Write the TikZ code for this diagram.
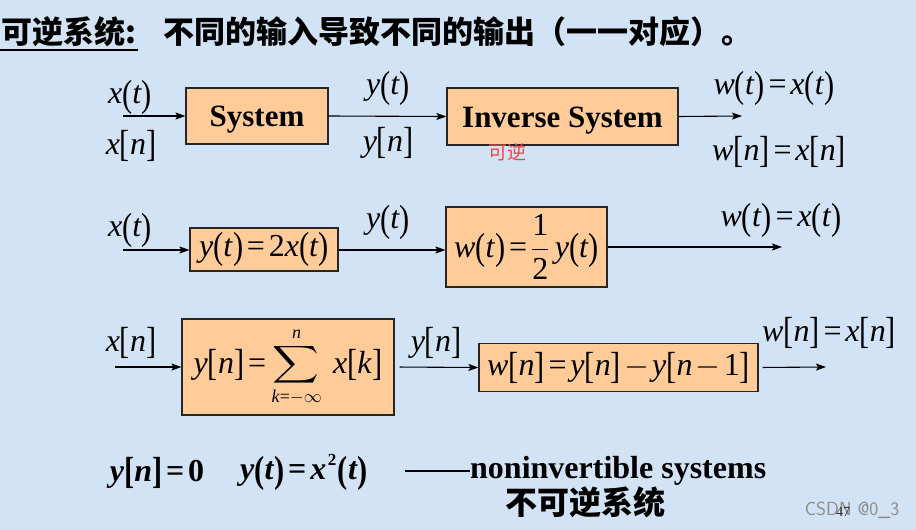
\documentclass[tikz,border=0pt]{standalone}
\usepackage{fix-cm}
\usepackage{exscale}
\usepackage{amsmath}
\usepackage{fontspec}
\setmainfont{Liberation Serif}
\newfontfamily\cjk{Noto Sans CJK SC}
\usepackage{graphicx}
\usetikzlibrary{arrows.meta}
\definecolor{bgblue}{RGB}{210,227,245}
\definecolor{peach}{RGB}{255,204,153}
\definecolor{redlbl}{RGB}{240,70,70}
\newcommand\LP{\raisebox{-0.08em}{\scalebox{0.95}[1.18]{(}}}
\newcommand\RP{\raisebox{-0.08em}{\scalebox{0.95}[1.18]{)}}}
\newcommand\LB{\raisebox{-0.08em}{\scalebox{0.95}[1.18]{[}}}
\newcommand\RB{\raisebox{-0.08em}{\scalebox{0.95}[1.18]{]}}}
\newcommand\vv[1]{\textit{#1}}
\newcommand\EQ{\kern0.12em=\kern0.12em}
\newcommand\MN{\kern0.1em$-$\kern0.1em}
\begin{document}
\begin{tikzpicture}[x=1pt,y=-1pt,
  lbl/.style={font=\fontsize{32}{36}\selectfont, inner sep=0pt},
  sysbox/.style={draw=black!85, fill=peach, line width=1.1pt, inner sep=0pt, font=\fontsize{32}{36}\selectfont},
  arr/.style={-{Stealth[length=10pt,width=7pt,inset=2pt]}, line width=1.1pt},
  cjkt/.style={font=\cjk\bfseries\fontsize{31}{34}\selectfont, inner sep=0pt}]
\fill[bgblue] (0,0) rectangle (916,530);
\useasboundingbox (0,0) rectangle (916,530);

% title
\node[cjkt, anchor=west] (t1) at (1,32) {可逆系统:};
\draw[line width=2.5pt] (0,50) -- (138,50);
\node[cjkt, anchor=west] (t2) at (163,32) {不同的输入导致不同的输出（一一对应）。};

% row 1
\node[sysbox, minimum width=142pt, minimum height=56pt, text height=21pt, text depth=0pt, font=\bfseries\fontsize{31}{34}\selectfont] (sys) at (257,116) {System};
\node[sysbox, minimum width=231pt, minimum height=57pt, text height=21pt, text depth=0pt, font=\bfseries\fontsize{31}{34}\selectfont] (inv) at (562.5,116.5) {Inverse System};
\coordinate (in1) at (123,116);
\coordinate (out1) at (742,116);
\draw[arr] (in1) -- (sys.west);
\draw[arr] (sys.east) -- (inv.west);
\draw[arr] (inv.east) -- (out1);
\node[lbl] (l1a) at (130,97) {\vv{x}\LP\vv{t}\RP};
\node[lbl] (l1b) at (131,146) {\vv{x}\LB\vv{n}\RB};
\node[lbl] (l1c) at (388,88) {\vv{y}\LP\vv{t}\RP};
\node[lbl] (l1d) at (388,143) {\vv{y}\LB\vv{n}\RB};
\node[lbl] (l1e) at (774,88) {\vv{w}\LP\vv{t}\RP\EQ\vv{x}\LP\vv{t}\RP};
\node[lbl] (l1f) at (779,152) {\vv{w}\LB\vv{n}\RB\EQ\vv{x}\LB\vv{n}\RB};
\node[font=\cjk\fontsize{19}{21}\selectfont, text=redlbl, inner sep=0pt] (ni) at (507,152) {可逆};

% row 2
\node[sysbox, minimum width=148pt, minimum height=43pt] (b1) at (264,249.5) {\vv{y}\LP\vv{t}\RP\EQ2\vv{x}\LP\vv{t}\RP};
\node[sysbox, minimum width=161pt, minimum height=80pt] (b2) at (526.5,247) {\vv{w}\LP\vv{t}\RP\EQ$\displaystyle\frac{\mbox{1}}{\mbox{2}}$\,\vv{y}\LP\vv{t}\RP};
\coordinate (in2) at (123,250);
\coordinate (out2) at (782,247);
\draw[arr] (in2) -- (in2 -| b1.west);
\draw[arr] (b1.east |- in2) -- (in2 -| b2.west);
\draw[arr] (b2.east) -- (out2);
\node[lbl] (l2a) at (130,230) {\vv{x}\LP\vv{t}\RP};
\node[lbl] (l2b) at (388,222) {\vv{y}\LP\vv{t}\RP};
\node[lbl] (l2c) at (781,220) {\vv{w}\LP\vv{t}\RP\EQ\vv{x}\LP\vv{t}\RP};

% row 3
\node[sysbox, minimum width=212pt, minimum height=96pt] (b3) at (288,367) {\vv{y}\LB\vv{n}\RB\EQ\kern0.05em$\displaystyle\mathop{\scalebox{1.3}[1.05]{$\displaystyle\sum$}}\limits_{\mbox{\fontsize{18}{18}\selectfont\textit{k}=$-\infty$}}^{\mbox{\fontsize{18}{18}\selectfont\textit{n}}}$\kern0.35em\vv{x}\LB\vv{k}\RB};
\node[sysbox, minimum width=279pt, minimum height=48pt] (b4) at (618.5,367.5) {\vv{w}\LB\vv{n}\RB\EQ\vv{y}\LB\vv{n}\RB\MN\vv{y}\LB\vv{n}\MN1\RB};
\coordinate (in3) at (115,367);
\coordinate (out3) at (826,367);
\draw[arr] (in3) -- (b3.west);
\draw[arr, shorten <=5pt] (b3.east) -- (b4.west);
\draw[arr, shorten <=4pt] (b4.east) -- (out3);
\node[lbl] (l3a) at (131,343) {\vv{x}\LB\vv{n}\RB};
\node[lbl] (l3b) at (436,343) {\vv{y}\LB\vv{n}\RB};
\node[lbl] (l3c) at (829,333) {\vv{w}\LB\vv{n}\RB\EQ\vv{x}\LB\vv{n}\RB};

% row 4
\node[lbl, font=\bfseries\fontsize{32}{36}\selectfont] (r4a) at (157,473) {\vv{y}\LB\vv{n}\RB\EQ0};
\node[lbl, font=\bfseries\fontsize{32}{36}\selectfont] (r4b) at (304,472) {\vv{y}\LP\vv{t}\RP\EQ\vv{x}\kern0.05em\raisebox{0.45em}{\fontsize{17}{17}\selectfont 2}\kern0.05em\LP\vv{t}\RP};
\draw[line width=1.6pt] (405,471) -- (470,471);
\node[lbl, font=\bfseries\fontsize{32}{36}\selectfont, anchor=base west] (r4c) at (470,478) {noninvertible systems};
\node[cjkt, font=\cjk\bfseries\fontsize{32}{35}\selectfont] (r4d) at (585,502) {不可逆系统};

\node[font=\fontsize{19}{20}\selectfont\sffamily, text=black!45, inner sep=0pt] (wm) at (852,510) {CSDN @0\_3};
\node[font=\fontsize{14}{16}\selectfont, text=black!80, inner sep=0pt] (pg) at (843,512) {47};
\end{tikzpicture}
\end{document}
